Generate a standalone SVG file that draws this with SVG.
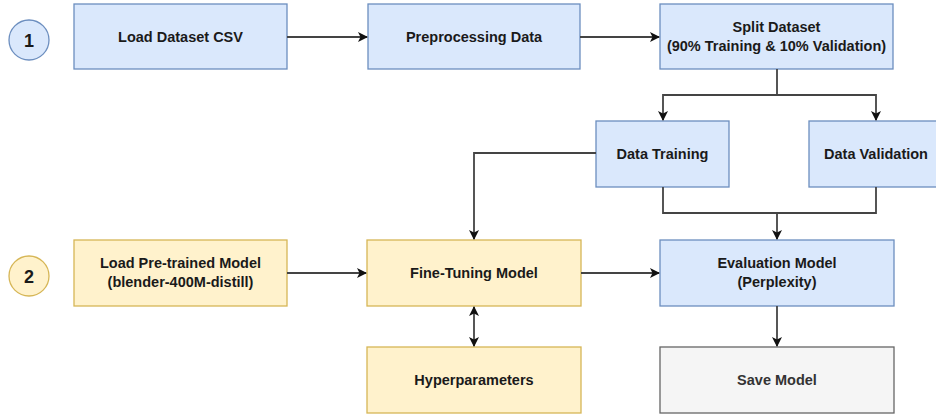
<svg xmlns="http://www.w3.org/2000/svg" width="936" height="419" viewBox="0 0 936 419">
  <style>
    .blue { fill: #dae8fc; stroke: #6c8ebf; stroke-width: 1.3; }
    .yellow { fill: #fff2cc; stroke: #d6b656; stroke-width: 1.3; }
    .grey { fill: #f5f5f5; stroke: #666666; stroke-width: 1.3; }
    text { font-family: "Liberation Sans", Arial, sans-serif; font-weight: bold; font-size: 14.5px; fill: #1a1a1a; text-anchor: middle; }
    .num { font-size: 18px; }
    .muted { fill: #333333; }
    .edge { fill: none; stroke: #444444; stroke-width: 1.8; }
  </style>
  <defs>
    <marker id="arrow" viewBox="0 0 10 10" refX="9" refY="5" markerWidth="10" markerHeight="10" markerUnits="userSpaceOnUse" orient="auto-start-reverse">
      <path d="M0,0 L10,5 L0,10 L2.5,5 Z" fill="#111111"/>
    </marker>
  </defs>
  <rect width="936" height="419" fill="#ffffff"/>

  <!-- step badges -->
  <g id="step-1">
    <circle cx="29" cy="40" r="20" class="blue"/>
    <text x="29" y="46.5" class="num">1</text>
  </g>
  <g id="step-2">
    <circle cx="29" cy="276" r="20" class="yellow"/>
    <text x="29" y="282.5" class="num">2</text>
  </g>

  <!-- data pipeline -->
  <g id="load-csv">
    <rect x="74" y="4" width="213" height="65" class="blue"/>
    <text x="180.5" y="42">Load Dataset CSV</text>
  </g>
  <g id="preprocessing">
    <rect x="368" y="4" width="212" height="65" class="blue"/>
    <text x="474" y="42">Preprocessing Data</text>
  </g>
  <g id="split-dataset">
    <rect x="660" y="4" width="233" height="65" class="blue"/>
    <text x="776.5" y="32">Split Dataset</text>
    <text x="776.5" y="51">(90% Training &amp; 10% Validation)</text>
  </g>
  <g id="data-training">
    <rect x="596" y="121" width="133" height="66" class="blue"/>
    <text x="662.5" y="159">Data Training</text>
  </g>
  <g id="data-validation">
    <rect x="809" y="121" width="134" height="66" class="blue"/>
    <text x="876" y="159">Data Validation</text>
  </g>

  <!-- model pipeline -->
  <g id="load-pretrained">
    <rect x="74" y="240" width="213" height="66" class="yellow"/>
    <text x="180.5" y="268">Load Pre-trained Model</text>
    <text x="180.5" y="287">(blender-400M-distill)</text>
  </g>
  <g id="fine-tuning">
    <rect x="367" y="240" width="214" height="66" class="yellow"/>
    <text x="474" y="278">Fine-Tuning Model</text>
  </g>
  <g id="hyperparameters">
    <rect x="367" y="347" width="214" height="66" class="yellow"/>
    <text x="474" y="385">Hyperparameters</text>
  </g>
  <g id="evaluation">
    <rect x="660" y="240" width="234" height="66" class="blue"/>
    <text x="777" y="268">Evaluation Model</text>
    <text x="777" y="287">(Perplexity)</text>
  </g>
  <g id="save-model">
    <rect x="660" y="347" width="234" height="66" class="grey"/>
    <text x="777" y="385" class="muted">Save Model</text>
  </g>

  <!-- connectors -->
  <g id="connectors">
    <path class="edge" d="M287,37 H367" marker-end="url(#arrow)"/>
    <path class="edge" d="M580,37 H659" marker-end="url(#arrow)"/>
    <path class="edge" d="M777,69 V95 H663 V120" marker-end="url(#arrow)"/>
    <path class="edge" d="M777,95 H876 V120" marker-end="url(#arrow)"/>
    <path class="edge" d="M596,153 H474 V239" marker-end="url(#arrow)"/>
    <path class="edge" d="M663,187 V213 H876 V187"/>
    <path class="edge" d="M777,213 V239" marker-end="url(#arrow)"/>
    <path class="edge" d="M287,273 H366" marker-end="url(#arrow)"/>
    <path class="edge" d="M581,273 H659" marker-end="url(#arrow)"/>
    <path class="edge" d="M474,307 V346" marker-start="url(#arrow)" marker-end="url(#arrow)"/>
    <path class="edge" d="M777,306 V346" marker-end="url(#arrow)"/>
  </g>
</svg>
